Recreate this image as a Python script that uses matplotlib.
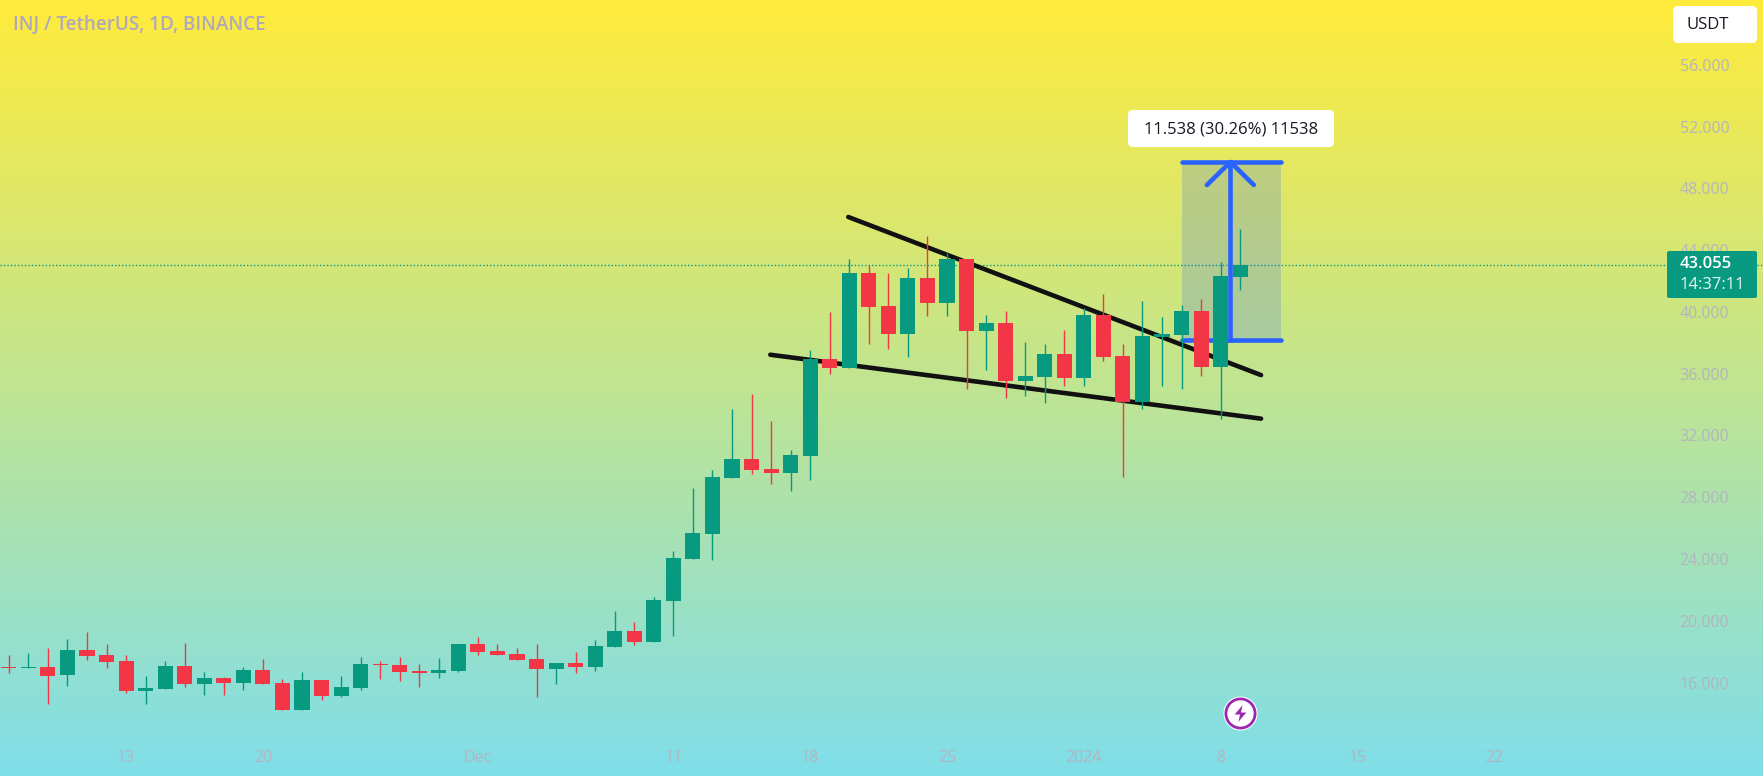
import matplotlib
matplotlib.use('Agg')
import matplotlib.pyplot as plt
import numpy as np
from matplotlib.colors import LinearSegmentedColormap
from matplotlib.patches import FancyBboxPatch, Rectangle
from matplotlib.transforms import IdentityTransform

plt.rcParams['font.family'] = ['Open Sans', 'DejaVu Sans']

# Daily candles, 7 Nov 2023 to 9 Jan 2024
opens = [17.03, 16.96, 17.01, 16.51, 18.11, 17.78, 17.40, 15.47, 15.60, 17.07, 15.93, 16.29, 15.99, 16.81, 15.97, 14.22,
         16.16, 15.15, 15.67, 17.20, 17.14, 16.75, 16.64, 16.77, 18.50, 18.04, 17.85, 17.52, 16.90, 17.27, 17.03,
         18.32, 19.34, 18.65, 21.30, 24.00, 25.64, 29.27, 30.50, 29.83, 29.59, 30.69, 36.93, 36.39, 42.53, 40.39, 38.60,
         42.20, 40.60, 43.43, 38.79, 39.29, 35.55, 35.81, 37.28, 35.75, 39.80, 37.15, 34.17, 38.40, 38.53, 40.06, 36.46, 42.29]
highs = [17.78, 17.93, 18.22, 18.82, 19.25, 18.50, 17.76, 16.42, 17.42, 18.58, 16.66, 16.38, 17.03, 17.50, 16.23, 16.70,
         16.16, 16.42, 17.63, 17.42, 17.68, 17.20, 17.61, 18.50, 18.97, 18.52, 18.22, 18.47, 17.27, 17.98, 18.76,
         20.63, 19.90, 21.52, 24.50, 28.58, 29.77, 33.74, 34.71, 32.96, 31.06, 37.54, 40.00, 43.45, 43.04, 42.55, 42.85,
         44.92, 43.80, 43.43, 39.83, 40.09, 38.06, 37.93, 38.83, 40.24, 41.17, 37.93, 40.71, 39.65, 40.43, 40.84, 43.24, 45.40]
lows = [16.64, 16.96, 14.63, 15.78, 17.46, 16.92, 15.30, 14.63, 15.60, 15.73, 15.17, 15.17, 15.52, 15.93, 14.22, 14.22,
        14.87, 15.04, 15.52, 16.21, 16.12, 15.69, 16.27, 16.68, 17.78, 17.78, 17.46, 15.06, 15.91, 16.64, 16.77,
        18.32, 18.43, 18.65, 19.01, 24.00, 23.94, 29.27, 29.51, 28.86, 28.41, 29.12, 35.98, 36.39, 37.91, 37.60, 37.06,
        39.74, 39.74, 35.03, 36.24, 34.43, 34.56, 34.13, 35.21, 35.21, 36.80, 29.29, 33.72, 35.21, 35.03, 35.85, 33.05, 41.42]
closes = [16.96, 17.01, 16.45, 18.11, 17.74, 17.35, 15.45, 15.65, 17.07, 15.93, 16.27, 15.99, 16.81, 15.93, 14.22, 16.16,
          15.15, 15.71, 17.20, 17.16, 16.70, 16.64, 16.79, 18.50, 18.00, 17.81, 17.48, 16.90, 17.27, 17.03, 18.37,
          19.34, 18.65, 21.35, 24.07, 25.69, 29.31, 30.50, 29.79, 29.59, 30.74, 36.96, 36.39, 42.53, 40.32, 38.60, 42.20,
          40.60, 43.43, 38.79, 39.29, 35.55, 35.85, 37.28, 35.75, 39.80, 37.11, 34.17, 38.47, 38.57, 40.06, 36.46, 42.33, 43.055]
first_day = -6  # days relative to 13 Nov

y_ticks = [16, 20, 24, 28, 32, 36, 40, 44, 48, 52, 56]
x_ticks = [0, 7, 18, 28, 35, 42, 49, 56, 63, 70]
x_labels = ['13', '20', 'Dec', '11', '18', '25', '2024', '8', '15', '22']

# Drawings on the chart
upper_x, upper_y = [36.95, 58.07], [46.15, 35.91]
lower_x, lower_y = [32.96, 58.07], [37.23, 33.09]
measure_left, measure_right, measure_mid = 54.0, 59.1, 56.5
measure_low, measure_high, head_y = 38.17, 49.71, 48.22
head_x = [55.3, 56.5, 57.7]
last_price = 43.055
icon_day, icon_price = 57, 14.03

UP = '#089981'
DOWN = '#F23645'
BLUE = '#2962FF'
AXIS_TEXT = '#B2B5BE'
W, H = 1763, 776


def px_box(x0, y0, x1, y1, color, rounding, z=20):
    # rounded box in image pixels, y counted from the top
    box = FancyBboxPatch((x0 + rounding, H - y1 + rounding), x1 - x0 - 2 * rounding, y1 - y0 - 2 * rounding,
                         boxstyle=f'round,pad={rounding},rounding_size={rounding}',
                         fc=color, ec='none', transform=IdentityTransform(), zorder=z)
    fig.add_artist(box)


fig = plt.figure(figsize=(W / 100, H / 100), dpi=100)
ax = fig.add_axes([0, 0, 1, 1])

cmap = LinearSegmentedColormap.from_list('bg', ['#FFEB3B', '#80DEEA'])
ax.imshow(np.linspace(0, 1, 256).reshape(-1, 1), cmap=cmap, aspect='auto', zorder=0,
          extent=[-6.45, 83.75, 9.95, 60.2], origin='upper')
ax.set_xlim(-6.45, 83.75)
ax.set_ylim(9.95, 60.2)

for s in ax.spines.values():
    s.set_visible(False)
ax.yaxis.tick_right()
ax.set_yticks(y_ticks)
ax.set_yticklabels([f'{v}.000' for v in y_ticks])
ax.set_xticks(x_ticks)
ax.set_xticklabels(x_labels)
ax.tick_params(axis='y', length=0, pad=-60, labelsize=11.5, labelcolor=AXIS_TEXT)
ax.tick_params(axis='x', length=0, pad=-18.5, labelsize=11.5, labelcolor=AXIS_TEXT)

# last price line
ax.axhline(last_price, color=UP, lw=1, ls=(0, (1, 1.5)), zorder=1)

# measure tool and trendlines go under the candles
ax.add_patch(Rectangle((measure_left, measure_low), measure_right - measure_left, measure_high - measure_low,
                       fc=BLUE, alpha=0.2, ec='none', zorder=2))
ax.plot(upper_x, upper_y, color='#111111', lw=3.3, solid_capstyle='round', zorder=3)
ax.plot(lower_x, lower_y, color='#111111', lw=3.3, solid_capstyle='round', zorder=3)
ax.plot([measure_left, measure_right], [measure_high, measure_high], color=BLUE, lw=3.3, solid_capstyle='round', zorder=3)
ax.plot([measure_left, measure_right], [measure_low, measure_low], color=BLUE, lw=3.3, solid_capstyle='round', zorder=3)
ax.plot([measure_mid, measure_mid], [measure_low, measure_high], color=BLUE, lw=3.3, zorder=3)
ax.plot(head_x, [head_y, measure_high, head_y], color=BLUE, lw=3.3, solid_capstyle='round', zorder=3)

days = np.arange(len(opens)) + first_day
colors = [UP if c >= o else DOWN for o, c in zip(opens, closes)]
ax.vlines(days, lows, highs, colors=colors, lw=1, zorder=4)
bottoms = [min(o, c) for o, c in zip(opens, closes)]
heights = [abs(c - o) for o, c in zip(opens, closes)]
ax.bar(days, heights, bottom=bottoms, width=0.77, color=colors, linewidth=0, zorder=5)

# lightning icon
ax.plot([icon_day], [icon_price], 'o', ms=24.5, mfc='white', mec='none', zorder=6)
ax.plot([icon_day], [icon_price], 'o', ms=21, mfc='white', mec='#9C27B0', mew=2, zorder=7)
bolt = [(0.25, 1), (-0.7, -0.12), (-0.05, -0.12), (-0.25, -1), (0.7, 0.12), (0.05, 0.12), (0.25, 1)]
ax.plot([icon_day], [icon_price], marker=bolt, ms=12, mfc='#9C27B0', mec='none', zorder=8)

# title
fig.text(13 / W, 1 - 25 / H, 'INJ / TetherUS, 1D, BINANCE', fontsize=13.6, fontweight='semibold',
         color='#B0A8BC', va='center', ha='left')

# measure label
px_box(1128, 110, 1334, 147, 'white', 5)
fig.text(1231 / W, 1 - 129 / H, '11.538 (30.26%) 11538', fontsize=12, color='#131722',
         va='center', ha='center', zorder=21)

# currency button
px_box(1673, 6, 1757, 43, 'white', 5)
fig.text(1708 / W, 1 - 25 / H, 'USDT', fontsize=12, color='#131722', va='center', ha='center', zorder=21)

# price tag
px_box(1667, 251, 1757, 298, UP, 2)
fig.text(1680 / W, 1 - 264 / H, f'{last_price:.3f}', fontsize=12, fontweight='semibold', color='white',
         va='center', ha='left', zorder=21)
fig.text(1680 / W, 1 - 285 / H, '14:37:11', fontsize=12, color='#E8F5F2', va='center', ha='left', zorder=21)

fig.savefig('out.png', dpi=100)
